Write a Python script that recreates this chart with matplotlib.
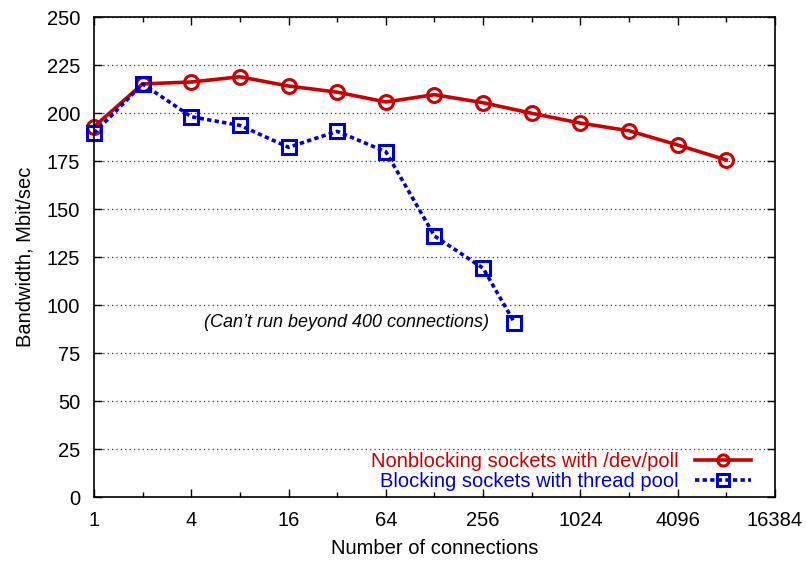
import matplotlib
matplotlib.use("Agg")
import matplotlib.pyplot as plt
from matplotlib.ticker import FixedLocator, NullFormatter

plt.rcParams["font.family"] = ["Liberation Sans", "DejaVu Sans"]

# Bandwidth measurements, Mbit/sec
connections = [1, 2, 4, 8, 16, 32, 64, 128, 256, 512, 1024, 2048, 4096, 8192]
devpoll_bw = [193, 215.3, 216.3, 219, 214.2, 211, 205.9, 209.7, 205.5, 200, 194.9, 190.9, 183.5, 175.7]

thread_conns = [1, 2, 4, 8, 16, 32, 64, 128, 256, 400]
thread_bw = [189.6, 215.3, 198.2, 193.7, 182.3, 190.6, 180, 136.1, 119.3, 91]

major_x = [1, 4, 16, 64, 256, 1024, 4096, 16384]
minor_x = [2, 8, 32, 128, 512, 2048, 8192]
y_ticks = list(range(0, 251, 25))

red = "#cc0000"
blue = "#0000cc"

fig = plt.figure(figsize=(8.06, 5.61), dpi=100)
ax = fig.add_axes([0.1166, 0.1135, 0.8449, 0.8557])

ax.plot(connections, devpoll_bw, color=red, lw=2.6, marker="o", ms=10,
        mfc="none", mew=2.2, clip_on=False,
        label="Nonblocking sockets with /dev/poll")
ax.plot(thread_conns, thread_bw, color=blue, lw=2.6, ls=(0, (1.2, 0.9)),
        marker="s", ms=10, mfc="none", mew=2.2, clip_on=False,
        label="Blocking sockets with thread pool")

ax.set_xscale("log", base=2)
ax.set_xlim(1, 16384)
ax.set_ylim(0, 250)
ax.xaxis.set_major_locator(FixedLocator(major_x))
ax.set_xticklabels([str(v) for v in major_x])
ax.xaxis.set_minor_locator(FixedLocator(minor_x))
ax.xaxis.set_minor_formatter(NullFormatter())
ax.set_yticks(y_ticks)

ax.tick_params(axis="both", which="major", direction="in", length=6, width=1,
               top=True, right=True, labelsize=14.5)
ax.tick_params(axis="x", which="major", pad=10)
ax.tick_params(axis="y", which="major", pad=10)
ax.tick_params(axis="x", which="minor", direction="in", length=3.5, width=1,
               top=True)
ax.grid(axis="y", ls=(0, (1, 2.5)), color="#333333", lw=0.9)
for s in ax.spines.values():
    s.set_linewidth(1.2)

ax.set_xlabel("Number of connections", fontsize=14.5, labelpad=6)
ax.set_ylabel("Bandwidth, Mbit/sec", fontsize=14.5, labelpad=9)

ax.text(280, 91, "(Can\u2019t run beyond 400 connections)", style="italic",
        fontsize=13, ha="right", va="center")

leg = ax.legend(loc="lower right", frameon=False, markerfirst=False,
                fontsize=14.5, handlelength=2.8, handletextpad=0.8,
                labelspacing=0.08, borderpad=0, borderaxespad=0,
                bbox_to_anchor=(1 - 24 / 681, 6 / 480),
                labelcolor="linecolor")
for h in leg.legend_handles:
    h.set_markersize(8)

fig.savefig("out.png", dpi=100)
